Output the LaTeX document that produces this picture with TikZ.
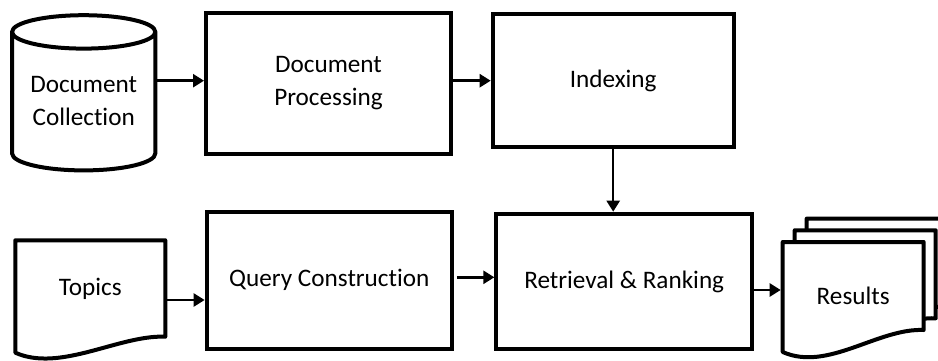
\documentclass[tikz,border=0pt]{standalone}
\usepackage{fontspec}
\setmainfont{Carlito}[Ligatures=NoCommon]
\usetikzlibrary{arrows.meta,backgrounds}

% sheet with a wavy lower edge, #2 shifts it, #3/#4 move the right/left bottom ends
\newcommand{\docshape}[4]{%
  \draw[bd] ([shift={(#2)},yshift=#3]#1.south east)
    .. controls +(-46,2) and +(45,-20) .. ([shift={(#2)},yshift=-#4]#1.south west)
    -- ([shift={(#2)}]#1.north west) -- ([shift={(#2)}]#1.north east) -- cycle;}

\begin{document}
\begin{tikzpicture}[->,>={Triangle[length=11pt,width=13pt]},x=1pt,y=1pt,
                    line width=2.5pt,font=\fontsize{25.2}{33}\selectfont]
  \tikzstyle{box}=[draw,line width=4pt,inner sep=0pt,align=center]
  \tikzstyle{blank}=[inner sep=0pt,outer sep=0pt,align=center]
  \tikzstyle{bd}=[-,draw,fill=white,line width=4pt,line join=round]

  \useasboundingbox (0,0) rectangle (938,360);

  \node[blank,minimum width=143.3pt,minimum height=104.8pt] (coll)   at (83.7,259)   {Document\\Collection};
  \node[box,minimum width=245pt,minimum height=141pt]       (proc)   at (328.5,276.5) {Document\\Processing};
  \node[box,minimum width=241pt,minimum height=132.7pt]     (idx)    at (613.2,279.3) {Indexing};
  \node[blank,minimum width=150pt,minimum height=96.4pt]    (topics) at (90.3,71.5)   {Topics};
  \node[box,minimum width=245.3pt,minimum height=136.7pt]   (qry)    at (329.3,79.7)  {Query Construction};
  \node[box,minimum width=255.7pt,minimum height=135.6pt]   (ret)    at (624.2,78.5)  {Retrieval \& Ranking};
  \node[blank,minimum width=141pt,minimum height=107pt]     (res)    at (853.2,64.5)  {Results};

  % outlines of the non-rectangular nodes
  \begin{scope}[on background layer]
    \clip (0,0) rectangle (938,360);
    \draw[bd] ([yshift=16.7pt]coll.north west) -- (coll.south west)
      arc[start angle=180,end angle=360,x radius=71.65pt,y radius=17pt]
      -- ([yshift=16.7pt]coll.north east)
      arc[start angle=0,end angle=360,x radius=71.65pt,y radius=16.7pt];
    \docshape{topics}{0,0}{0pt}{16pt}
    \docshape{res}{24,23.4}{19pt}{3pt}
    \docshape{res}{12,11.7}{19pt}{3pt}
    \docshape{res}{0,0}{19pt}{3pt}
  \end{scope}

  \draw (coll.east |- idx.west) -- (proc.west |- idx.west);
  \draw (proc.east |- idx.west) -- (idx.west);
  \draw (idx.south) -- (idx.south |- ret.north);
  \draw ([yshift=-11.5pt]topics.east) -- ([yshift=-11.5pt]topics.east -| qry.west);
  \draw[shorten <=3pt] ([yshift=3pt]qry.east) -- ([yshift=3pt]qry.east -| ret.west);
  \draw[shorten >=2pt] ([yshift=-8.5pt]ret.east) -- ([yshift=-8.5pt]ret.east -| res.west);
\end{tikzpicture}
\end{document}
